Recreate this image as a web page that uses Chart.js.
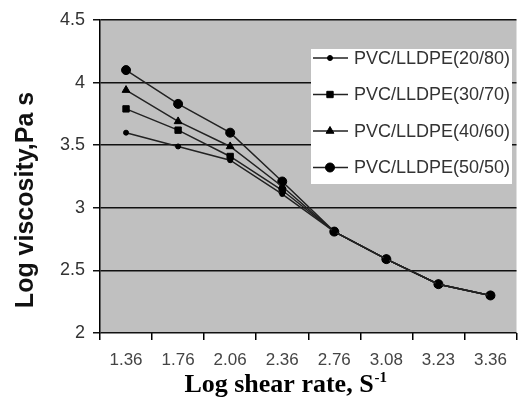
<!DOCTYPE html>
<html><head><meta charset="utf-8">
<script src="https://cdn.jsdelivr.net/npm/chart.js@4.4.1/dist/chart.umd.min.js"></script>
<style>html,body{margin:0;padding:0;background:#fff;}#wrap{width:522px;height:398px;}</style>
</head><body><div id="wrap"><canvas id="c" width="522" height="398"></canvas></div>
<script>
const categories = ["1.36","1.76","2.06","2.36","2.76","3.08","3.23","3.36"];
const seriesNames = ["PVC/LLDPE(20/80)","PVC/LLDPE(30/70)","PVC/LLDPE(40/60)","PVC/LLDPE(50/50)"];
const pvc20_80 = [3.60, 3.49, 3.38, 3.11, 2.81, 2.59, 2.39, 2.30];
const pvc30_70 = [3.79, 3.62, 3.41, 3.14, 2.81, 2.59, 2.39, 2.30];
const pvc40_60 = [3.94, 3.69, 3.49, 3.17, 2.81, 2.59, 2.39, 2.30];
const pvc50_50 = [4.10, 3.83, 3.60, 3.21, 2.81, 2.59, 2.39, 2.30];
const yTicks = [2, 2.5, 3, 3.5, 4, 4.5];
const yTitle = "Log viscosity,Pa s";
const xTitle = "Log shear rate, S";
const xTitleSup = "-1";

const styles = [
  {pointStyle:'circle', r:2.5},
  {pointStyle:'rect', r:4.5},
  {pointStyle:'triangle', r:4.5},
  {pointStyle:'circle', r:4.5}
];
const values = [pvc20_80, pvc30_70, pvc40_60, pvc50_50];

const datasets = values.map((v,i)=>({
  label: seriesNames[i],
  data: v,
  borderColor: '#222',
  backgroundColor: '#000',
  borderWidth: 1.5,
  pointStyle: styles[i].pointStyle,
  pointRadius: styles[i].r,
  pointBackgroundColor: '#000',
  pointBorderColor: '#000',
  pointBorderWidth: 1,
  tension: 0,
  fill: false
}));

const decor = {
  id: 'decor',
  beforeDraw(chart){
    const {ctx, chartArea:a} = chart;
    ctx.save();
    ctx.fillStyle = '#c0c0c0';
    ctx.fillRect(a.left, a.top, a.right - a.left, a.bottom - a.top);
    ctx.restore();
  },
  afterDraw(chart){
    const ctx = chart.ctx;
    ctx.save();
    const bx = 311, by = 49, bw = 201, bh = 135;
    ctx.fillStyle = '#fff';
    ctx.fillRect(bx, by, bw, bh);
    ctx.beginPath(); ctx.rect(bx, by, bw, bh); ctx.clip();
    chart.data.datasets.forEach((ds, i) => {
      const y = 58 + i * 36.5;
      ctx.strokeStyle = '#222'; ctx.lineWidth = 1.5;
      ctx.beginPath(); ctx.moveTo(313, y); ctx.lineTo(348, y); ctx.stroke();
      ctx.fillStyle = '#000'; ctx.strokeStyle = '#000'; ctx.lineWidth = 1;
      Chart.helpers.drawPoint(ctx, {pointStyle: ds.pointStyle, radius: ds.pointRadius, borderWidth: 1}, 330, y);
      ctx.fillStyle = '#333';
      ctx.font = '18px "Liberation Sans", Arial, sans-serif';
      ctx.textBaseline = 'middle'; ctx.textAlign = 'left';
      ctx.fillText(ds.label, 354, y + 1);
    });
    ctx.restore();
    ctx.save();
    ctx.translate(33, 200);
    ctx.rotate(-Math.PI/2);
    ctx.fillStyle = '#111';
    ctx.font = 'bold 25px "Liberation Sans", Arial, sans-serif';
    ctx.textAlign = 'center'; ctx.textBaseline = 'alphabetic';
    ctx.fillText(yTitle, 0, 0);
    ctx.restore();
    ctx.save();
    ctx.fillStyle = '#000';
    ctx.font = 'bold 26px "Liberation Serif", "Times New Roman", serif';
    ctx.textBaseline = 'alphabetic'; ctx.textAlign = 'left';
    const w = ctx.measureText(xTitle).width;
    const x0 = 279 - w/2;
    ctx.fillText(xTitle, x0, 392);
    ctx.font = 'bold 15px "Liberation Serif", "Times New Roman", serif';
    ctx.fillText(xTitleSup, x0 + w + 1, 382);
    ctx.restore();
  }
};

new Chart(document.getElementById('c'), {
  type: 'line',
  data: { labels: categories, datasets },
  options: {
    responsive: false,
    animation: false,
    layout: { padding: { top: 20, right: 0, left: 0, bottom: 0 } },
    plugins: { legend: { display: false }, tooltip: { enabled: false } },
    scales: {
      x: {
        offset: true,
        grid: { drawOnChartArea: false, drawTicks: true, tickLength: 7, color: '#000', lineWidth: 1.5, offset: true },
        border: { display: false },
        ticks: { color: '#444', font: { size: 17, family: '"Liberation Sans", Arial, sans-serif' }, padding: 10, maxRotation: 0, autoSkip: false },
        afterFit(s){ s.height = 65; }
      },
      y: {
        min: 2, max: 4.5,
        afterBuildTicks(s){ s.ticks = yTicks.map(v => ({value: v})); },
        grid: { color: '#111', lineWidth: 1.5, tickLength: 7, drawTicks: true },
        border: { display: true, color: '#000', width: 1.5 },
        ticks: { color: '#333', font: { size: 18, family: '"Liberation Sans", Arial, sans-serif' }, padding: 8,
                 callback: (v) => String(v) },
        afterFit(s){ s.width = 100; }
      }
    }
  },
  plugins: [decor]
});
</script>
</body></html>
